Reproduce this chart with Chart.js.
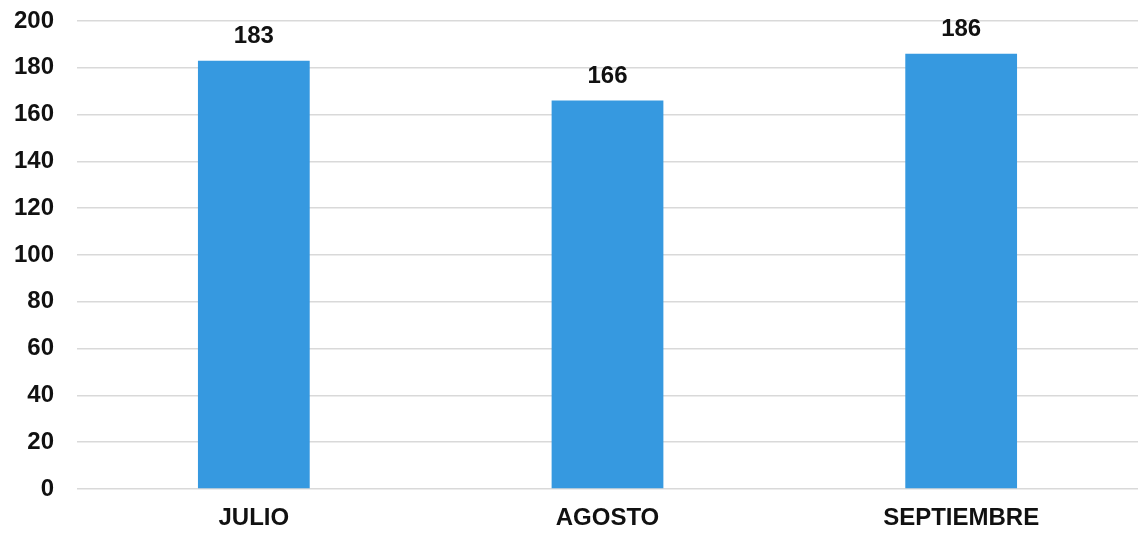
<!DOCTYPE html>
<html>
<head>
<meta charset="utf-8">
<script src="https://cdn.jsdelivr.net/npm/chart.js@4/dist/chart.umd.min.js"></script>
<style>
html,body{margin:0;padding:0;background:#fff;}
#wrap{width:1138px;height:533px;}
</style>
</head>
<body>
<div id="wrap"><canvas id="c"></canvas></div>
<script>
// datos del grafico
var meses = ['JULIO', 'AGOSTO', 'SEPTIEMBRE'];
var valores = [183, 166, 186];
var ticksY = [0, 20, 40, 60, 80, 100, 120, 140, 160, 180, 200];

var fuente = '"Liberation Sans", Arial, sans-serif';

// etiquetas encima de cada barra
var etiquetas = {
  id: 'etiquetas',
  afterDatasetsDraw: function(chart){
    var ctx = chart.ctx;
    var meta = chart.getDatasetMeta(0);
    ctx.save();
    ctx.font = 'bold 24px ' + fuente;
    ctx.fillStyle = '#111';
    ctx.textAlign = 'center';
    ctx.textBaseline = 'bottom';
    meta.data.forEach(function(bar, i){
      ctx.fillText(String(chart.data.datasets[0].data[i]), bar.x, bar.y - 12);
    });
    ctx.restore();
  }
};

new Chart(document.getElementById('c'), {
  type: 'bar',
  data: { labels: meses, datasets: [{ data: valores, backgroundColor: '#3699e0', categoryPercentage: 1, barPercentage: 0.316 }] },
  options: {
    responsive: true, maintainAspectRatio: false, animation: false,
    layout: { padding: { top: 21, right: 0, left: 0, bottom: 0 } },
    plugins: { legend: { display: false }, tooltip: { enabled: false } },
    scales: {
      x: {
        grid: { display: false, drawTicks: false },
        border: { display: false },
        ticks: { color: '#111', padding: 15, font: { family: fuente, size: 24, weight: 'bold' } },
        afterFit: function(s){ s.height = 44; }
      },
      y: {
        min: 0, max: 200,
        afterBuildTicks: function(s){ s.ticks = ticksY.map(function(v){ return { value: v }; }); },
        grid: { color: '#d9d9d9', lineWidth: 1.5, drawTicks: false },
        border: { display: false },
        ticks: { color: '#111', padding: 23, font: { family: fuente, size: 24, weight: 'bold' } },
        afterFit: function(s){ s.width = 77; s.paddingTop = 0; s.paddingBottom = 0; }
      }
    }
  },
  plugins: [etiquetas]
});
</script>
</body>
</html>
